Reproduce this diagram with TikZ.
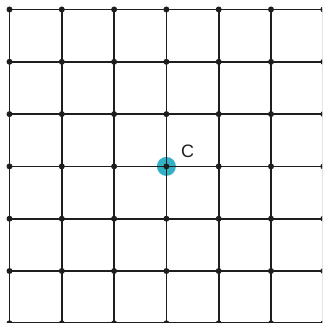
\documentclass[tikz,border=0pt]{standalone}
\usepackage{fontspec}
\setmainfont{Liberation Sans}
\definecolor{gridc}{RGB}{30,30,30}
\definecolor{cyanc}{RGB}{50,178,196}
\begin{document}
\begin{tikzpicture}[x=1pt,y=-1pt,
  dotn/.style={circle,fill=gridc,inner sep=0pt,minimum size=6pt},
  gline/.style={draw=gridc,line width=1.8pt},
  hub/.style={circle,fill=cyanc,inner sep=0pt,minimum size=19pt}]
\useasboundingbox (0,0) rectangle (322,323);
\clip (0,0) rectangle (322,323);
\node[hub] (hubc) at (166.4,166.4) {};
\foreach \i in {0,...,6}{
  \foreach \j in {0,...,6}{
    \coordinate (p-\i-\j) at ({9.5+52.3*\i},{9.5+52.3*\j});
  }
}
\foreach \i in {0,...,6}{
  \foreach \j [count=\k from 1] in {0,...,5}{
    \draw[gline] (p-\i-\j) -- (p-\i-\k);
    \draw[gline] (p-\j-\i) -- (p-\k-\i);
  }
}
\foreach \i in {0,...,6}{
  \foreach \j in {0,...,6}{
    \node[dotn] (d-\i-\j) at (p-\i-\j) {};
  }
}
\node[font=\fontsize{18}{18}\selectfont,text=gridc,inner sep=0pt] (lab) at (187.5,151) {C};
\end{tikzpicture}
\end{document}
